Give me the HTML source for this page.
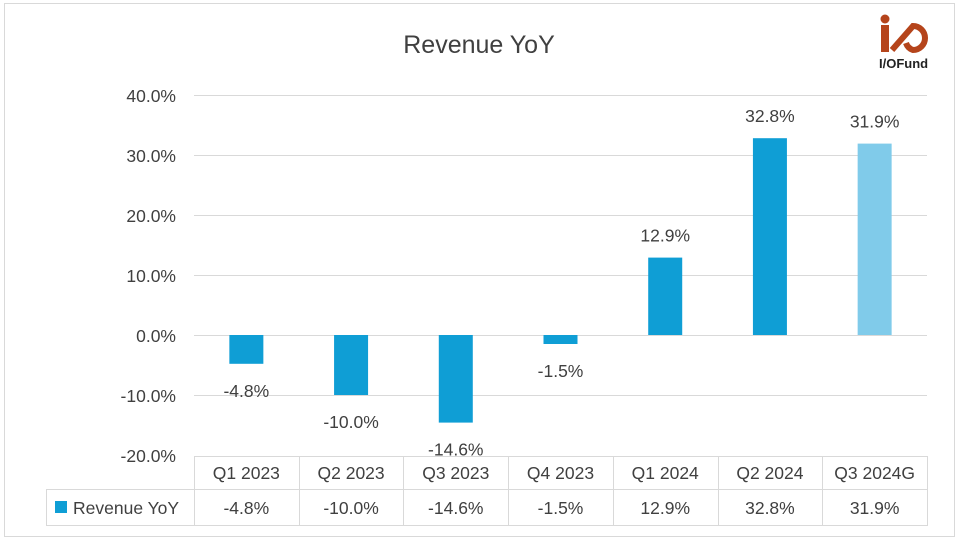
<!DOCTYPE html>
<html><head><meta charset="utf-8"><style>
body{margin:0;background:#fff;font-family:"Liberation Sans",Arial,sans-serif}
svg text{font-family:"Liberation Sans",Arial,sans-serif;fill:#404040}
</style></head><body>
<svg id="c" width="959" height="543">
<rect x="4.5" y="3.5" width="950" height="533" fill="#fff" stroke="#d9d9d9"/>
<text x="479" y="53" font-size="25" text-anchor="middle">Revenue YoY</text>
<g>
<rect x="881" y="25" width="8" height="27" fill="#b5441b"/>
<circle cx="885" cy="19" r="4.5" fill="#b5441b"/>
<path d="M892 50 L913 26 A11 11 0 1 1 913 50 A11 11 0 0 1 906 43" fill="none" stroke="#b5441b" stroke-width="6"/>
<text x="879" y="68" font-size="13" font-weight="bold" style="fill:#222">I/OFund</text>
</g>
<g id="grid"></g><g id="bars"></g><g id="table"></g>
</svg>
<script>
const categories=["Q1 2023","Q2 2023","Q3 2023","Q4 2023","Q1 2024","Q2 2024","Q3 2024G"];
const values=[-4.8,-10.0,-14.6,-1.5,12.9,32.8,31.9];
const labels=["-4.8%","-10.0%","-14.6%","-1.5%","12.9%","32.8%","31.9%"];
const ticks=[40,30,20,10,0,-10,-20];
const tickLabels=["40.0%","30.0%","20.0%","10.0%","0.0%","-10.0%","-20.0%"];
const NS="http://www.w3.org/2000/svg";
const x0=194,x1=927,cw=(x1-x0)/categories.length;
const y=v=>335-(v*6);
function mk(p,t,a){const e=document.createElementNS(NS,t);for(const k in a)e.setAttribute(k,a[k]);p.appendChild(e);return e;}
const g=document.getElementById('grid'),b=document.getElementById('bars'),tb=document.getElementById('table');
ticks.forEach((t,i)=>{
 if(t>-20){const l=mk(g,'line',{x1:x0,x2:x1,y1:y(t)+.5,y2:y(t)+.5,stroke:'#d9d9d9'});
 
 }
 const tx=mk(g,'text',{x:176,y:y(t)+7,'font-size':17.5,'text-anchor':'end'});tx.textContent=tickLabels[i];
 
 
});
values.forEach((v,i)=>{
 const cx=x0+cw*(i+0.5),top=Math.min(y(v),y(0)),h=Math.abs(y(v)-y(0));
 const r=mk(b,'rect',{x:cx-17,y:top,width:34,height:h,fill:i==6?'#80cbea':'#0f9ed5'});
 
 
 const ly=v>=0?y(v)-16:y(v)+33;
 const t=mk(b,'text',{x:cx,y:ly,'font-size':17.5,'text-anchor':'middle'});t.textContent=labels[i];
 
 
});
const s='#d9d9d9';
mk(tb,'line',{x1:x0,x2:x1,y1:456.5,y2:456.5,stroke:s});
mk(tb,'line',{x1:46,x2:x1,y1:489.5,y2:489.5,stroke:s});
mk(tb,'line',{x1:46,x2:x1,y1:525.5,y2:525.5,stroke:s});
mk(tb,'line',{x1:46.5,x2:46.5,y1:489,y2:526,stroke:s});
for(let i=0;i<=categories.length;i++){const xx=Math.round(x0+cw*i)+.5;mk(tb,'line',{x1:xx,x2:xx,y1:456,y2:526,stroke:s});}
categories.forEach((c,i)=>{
 const cx=x0+cw*(i+0.5);
 const t=mk(tb,'text',{x:cx,y:479,'font-size':17.5,'text-anchor':'middle'});t.textContent=c;
 
 
 const d=mk(tb,'text',{x:cx,y:514,'font-size':17.5,'text-anchor':'middle'});d.textContent=labels[i];
 
 
});
const k=mk(tb,'rect',{x:55,y:501,width:12,height:12,fill:'#0f9ed5'});


const lt=mk(tb,'text',{x:73,y:514,'font-size':17.5});lt.textContent='Revenue YoY';


</script>
</body></html>
